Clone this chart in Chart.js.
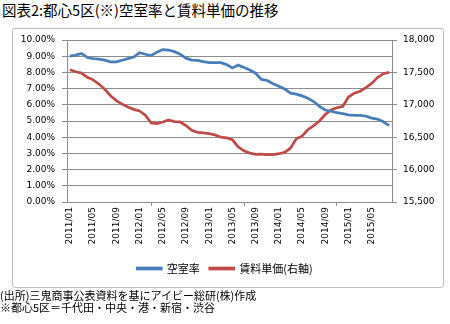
<!DOCTYPE html>
<html>
<head>
<meta charset="utf-8">
<script src="https://cdn.jsdelivr.net/npm/chart.js@4/dist/chart.umd.min.js"></script>
<style>
  html, body { margin: 0; padding: 0; background: #fff; }
  #wrap { position: relative; width: 450px; height: 324px; overflow: hidden; }
  #title { position: absolute; left: 2px; top: 1px; font: 14.5px/18px "Noto Sans CJK JP", sans-serif; color: #000; white-space: nowrap; }
  #frame { position: absolute; left: 12px; top: 28px; width: 430px; height: 258px; border: 1px solid #bfbfbf; border-radius: 3px; }
  #chart { position: absolute; left: 0; top: 0; }
  #notes { position: absolute; left: 0; top: 289px; font: 11px/12px "Noto Sans CJK JP", sans-serif; color: #000; white-space: nowrap; }
</style>
</head>
<body>
<div id="wrap">
  <div id="title">図表2:都心5区(※)空室率と賃料単価の推移</div>
  <div id="frame"></div>
  <canvas id="chart" width="450" height="324"></canvas>
  <div id="notes">(出所)三鬼商事公表資料を基にアイビー総研(株)作成<br>※都心5区＝千代田・中央・港・新宿・渋谷</div>
</div>
<script>
// monthly, 2011/01 - 2015/08
const months = [
  "2011/01","2011/02","2011/03","2011/04","2011/05","2011/06","2011/07","2011/08","2011/09","2011/10","2011/11","2011/12",
  "2012/01","2012/02","2012/03","2012/04","2012/05","2012/06","2012/07","2012/08","2012/09","2012/10","2012/11","2012/12",
  "2013/01","2013/02","2013/03","2013/04","2013/05","2013/06","2013/07","2013/08","2013/09","2013/10","2013/11","2013/12",
  "2014/01","2014/02","2014/03","2014/04","2014/05","2014/06","2014/07","2014/08","2014/09","2014/10","2014/11","2014/12",
  "2015/01","2015/02","2015/03","2015/04","2015/05","2015/06","2015/07","2015/08"
];

// 空室率 (%)
const vacancy = [
  9.00, 9.07, 9.17, 8.92, 8.85, 8.82, 8.76, 8.65, 8.65, 8.75, 8.85, 8.95,
  9.22, 9.12, 9.04, 9.25, 9.40, 9.38, 9.28, 9.12, 8.88, 8.76, 8.74, 8.66,
  8.60, 8.60, 8.60, 8.48, 8.27, 8.45, 8.30, 8.15, 7.95, 7.57, 7.50, 7.30,
  7.15, 6.98, 6.72, 6.66, 6.55, 6.40, 6.20, 5.90, 5.68, 5.60, 5.52, 5.45,
  5.38, 5.35, 5.35, 5.30, 5.18, 5.12, 4.95, 4.72
];

// 賃料単価 (円/坪, right axis)
const rent = [
  17540, 17510, 17490, 17425, 17385, 17320, 17240, 17140, 17065, 17010, 16965, 16930,
  16905, 16840, 16720, 16710, 16735, 16765, 16740, 16735, 16680, 16605, 16575, 16565,
  16555, 16535, 16500, 16490, 16460, 16350, 16290, 16255, 16235, 16240, 16230, 16230,
  16245, 16265, 16330, 16475, 16515, 16615, 16680, 16750, 16850, 16920, 16955, 16975,
  17120, 17180, 17210, 17265, 17330, 17420, 17480, 17500
];

const leftTicks = { min: 0, max: 10, step: 1 };
const rightTicks = { min: 15500, max: 18000, step: 500 };

const gridGray = "#8c8c8c";
const tickFont = { family: "DejaVu Sans", size: 9 };

new Chart(document.getElementById("chart"), {
  type: "line",
  data: {
    labels: months,
    datasets: [
      {
        label: "空室率",
        data: vacancy,
        yAxisID: "y",
        borderColor: "#4a7ebb",
        backgroundColor: "#4a7ebb",
        borderWidth: 2.75,
        pointRadius: 0,
        tension: 0,
      },
      {
        label: "賃料単価(右軸)",
        data: rent,
        yAxisID: "y2",
        borderColor: "#be4b48",
        backgroundColor: "#be4b48",
        borderWidth: 2.75,
        pointRadius: 0,
        tension: 0,
      },
    ],
  },
  options: {
    responsive: false,
    animation: false,
    devicePixelRatio: 1,
    layout: { padding: { top: 40, left: 0, right: 0, bottom: 40 } },
    plugins: {
      tooltip: { enabled: false },
      legend: {
        position: "bottom",
        labels: {
          boxWidth: 24,
          boxHeight: 1,
          padding: 10,
          color: "#000",
          font: { family: "Noto Sans CJK JP", size: 11 },
        },
      },
    },
    scales: {
      x: {
        offset: true,
        afterFit: (s) => { s.height = 51; },
        grid: {
          offset: true,
          drawOnChartArea: false,
          tickLength: 4,
          color: (c) => (c.index % 4 === 0 ? gridGray : "rgba(0,0,0,0)"),
        },
        border: { color: gridGray },
        ticks: {
          autoSkip: false,
          minRotation: 90,
          maxRotation: 90,
          padding: 1,
          color: "#000",
          font: tickFont,
          callback: (v, i) => (i % 4 === 0 ? months[i] : null),
        },
      },
      y: {
        position: "left",
        min: leftTicks.min,
        max: leftTicks.max,
        afterFit: (s) => { s.width = 67; },
        grid: { color: gridGray, tickLength: 5 },
        border: { color: gridGray },
        ticks: {
          stepSize: leftTicks.step,
          padding: 7,
          color: "#000",
          font: tickFont,
          callback: (v) => v.toFixed(2) + "%",
        },
      },
      y2: {
        position: "right",
        min: rightTicks.min,
        max: rightTicks.max,
        afterFit: (s) => { s.width = 58; },
        grid: { drawOnChartArea: false, color: gridGray, tickLength: 5 },
        border: { color: gridGray },
        ticks: {
          stepSize: rightTicks.step,
          padding: 6,
          color: "#000",
          font: tickFont,
          callback: (v) => v.toLocaleString("en-US"),
        },
      },
    },
  },
});
</script>
</body>
</html>
